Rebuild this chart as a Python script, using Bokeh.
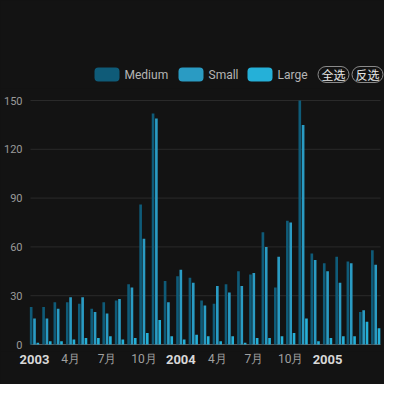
import pandas as pd
from bokeh.plotting import figure
from bokeh.layouts import column
from bokeh.models import ColumnDataSource, Range1d
from bokeh.transform import dodge
from bokeh.core.properties import value
from bokeh.embed import file_html
from bokeh.resources import INLINE

months = ["2003-01", "2003-02", "2003-03", "2003-04", "2003-05", "2003-06", "2003-07",
          "2003-08", "2003-09", "2003-10", "2003-11", "2003-12",
          "2004-01", "2004-02", "2004-03", "2004-04", "2004-05", "2004-06", "2004-07",
          "2004-08", "2004-09", "2004-10", "2004-11", "2004-12",
          "2005-01", "2005-02", "2005-03", "2005-04", "2005-05"]
medium = [23, 23, 26, 26, 25, 22, 26, 27, 37, 86, 142, 39,
          42, 41, 27, 25, 37, 45, 43, 69, 35, 76, 150, 56,
          50, 54, 51, 20, 58]
small = [16, 16, 22, 29, 29, 20, 19, 28, 35, 65, 139, 26,
         46, 38, 24, 36, 32, 36, 44, 60, 54, 75, 135, 52,
         45, 38, 50, 21, 49]
large = [1, 2, 2, 3, 4, 4, 5, 3, 4, 7, 15, 5,
         3, 6, 5, 2, 5, 1, 4, 4, 5, 7, 16, 2,
         4, 5, 5, 14, 10]
series_names = ["Medium", "Small", "Large"]
series_colors = ["#0f5b78", "#2a9bc3", "#25b0d8"]
selector_labels = ["全选", "反选"]

x_tick_dates = ["2003-01-01", "2003-04-01", "2003-07-01", "2003-10-01", "2004-01-01",
                "2004-04-01", "2004-07-01", "2004-10-01", "2005-01-01"]
x_tick_labels = ["2003", "4月", "7月", "10月", "2004", "4月", "7月", "10月", "2005"]
x_tick_is_year = [True, False, False, False, True, False, False, False, True]
y_ticks = [0, 30, 60, 90, 120, 150]
y_tick_labels = ["0", "30", "60", "90", "120", "150"]

BG = "#131313"
DAY = 86400000.0
W = 384
ML, MR = 30, 4             # plot area inset inside the full-width frames (px)
PLOT_W = W - ML - MR
T0 = pd.Timestamp("2002-12-22").value / 1e6
T1 = pd.Timestamp("2005-05-13").value / 1e6
MPP = (T1 - T0) / PLOT_W   # ms per pixel
XS, XE = T0 - ML * MPP, T1 + MR * MPP


def fig(h, xr, yr):
    f = figure(width=W, height=h, output_backend="svg", toolbar_location=None,
               x_range=xr, y_range=yr,
               min_border_left=0, min_border_right=0, min_border_top=0, min_border_bottom=0,
               background_fill_color=BG, border_fill_color=BG)
    f.xaxis.visible = False
    f.yaxis.visible = False
    f.xgrid.grid_line_color = None
    f.ygrid.grid_line_color = None
    f.outline_line_color = None
    return f


# ---------- legend strip ----------
LH = 88
leg = fig(LH, Range1d(0, W), Range1d(LH, 0))
sw_left = [94, 178, 247]
txt_left = [124, 208, 277]
leg_y = 74
for name, col, sl, tl in zip(series_names, series_colors, sw_left, txt_left):
    kw = dict(left=sl, right=sl + 25, top=leg_y - 7, bottom=leg_y + 7,
              fill_color=col, line_color=None)
    try:
        leg.quad(border_radius=4, **kw)
    except Exception:
        leg.quad(**kw)
    leg.text(x=[tl], y=[leg_y], text=[name], text_font=value("Roboto"),
             text_font_size=value("12px"), text_color="#b5b5b5",
             text_align="left", text_baseline="middle")
btn_cx = [333, 367]
for lab, cx in zip(selector_labels, btn_cx):
    kw = dict(left=cx - 15.5, right=cx + 15.5, top=leg_y - 8, bottom=leg_y + 8,
              fill_color=None, line_color="#8a8a8a", line_width=1)
    try:
        leg.quad(border_radius=8, **kw)
    except Exception:
        leg.quad(**kw)
    leg.text(x=[cx], y=[leg_y], text=[lab], text_font=value("Noto Sans CJK SC"),
             text_font_size=value("12px"), text_color="#e6e6e6",
             text_align="center", text_baseline="middle")

# ---------- main chart ----------
FRAME_H = 244              # pixels between value 0 and value 150
TOP_PAD, BOT_PAD = 12, 7
MH = FRAME_H + TOP_PAD + BOT_PAD
PPU = FRAME_H / 150.0
p = fig(MH, Range1d(XS, XE), Range1d(-BOT_PAD / PPU, 150 + TOP_PAD / PPU))
grid_y = [v for v in y_ticks if v > 0]
p.segment(x0=[T0] * len(grid_y), x1=[T1] * len(grid_y), y0=grid_y, y1=grid_y,
          line_color="#2a2a2a", line_width=1)
p.segment(x0=[T0], x1=[T1], y0=[0], y1=[0], line_color="#5a5a5a", line_width=1)
p.text(x=[XS + 22 * MPP] * len(y_ticks), y=y_ticks, text=y_tick_labels,
       text_font=value("Roboto"), text_font_size=value("11px"), text_color="#9a9a9a",
       text_align="right", text_baseline="middle")

src = ColumnDataSource(dict(x=[pd.Timestamp(m).value / 1e6 for m in months],
                            Medium=medium, Small=small, Large=large))
offsets = [-8.3 * DAY, 0.0, 8.3 * DAY]
for name, col, off in zip(series_names, series_colors, offsets):
    p.vbar(x=dodge("x", off, range=p.x_range), top=name, width=6.6 * DAY, bottom=0,
           source=src, fill_color=col, line_color=None)

# ---------- x labels strip ----------
tick_ms = [pd.Timestamp(d).value / 1e6 for d in x_tick_dates]
SH = 384 - LH - MH
LBL_Y = 358.5 - LH - MH
xl = fig(SH, Range1d(XS, XE), Range1d(SH, 0))
yr_x = [t for t, y in zip(tick_ms, x_tick_is_year) if y]
yr_t = [l for l, y in zip(x_tick_labels, x_tick_is_year) if y]
mo_x = [t for t, y in zip(tick_ms, x_tick_is_year) if not y]
mo_t = [l for l, y in zip(x_tick_labels, x_tick_is_year) if not y]
xl.text(x=yr_x, y=[LBL_Y] * len(yr_x), text=yr_t, text_font=value("Roboto"),
        text_font_size=value("13px"), text_font_style="bold", text_color="#d8d8d8",
        text_align="center", text_baseline="middle")
xl.text(x=mo_x, y=[LBL_Y] * len(mo_x), text=mo_t, text_font=value("Roboto"),
        text_font_size=value("12px"), text_color="#a0a0a0",
        text_align="center", text_baseline="middle")

layout = column(leg, p, xl, spacing=0, styles={"background-color": BG})
open("out.html", "w").write(file_html(layout, INLINE))
